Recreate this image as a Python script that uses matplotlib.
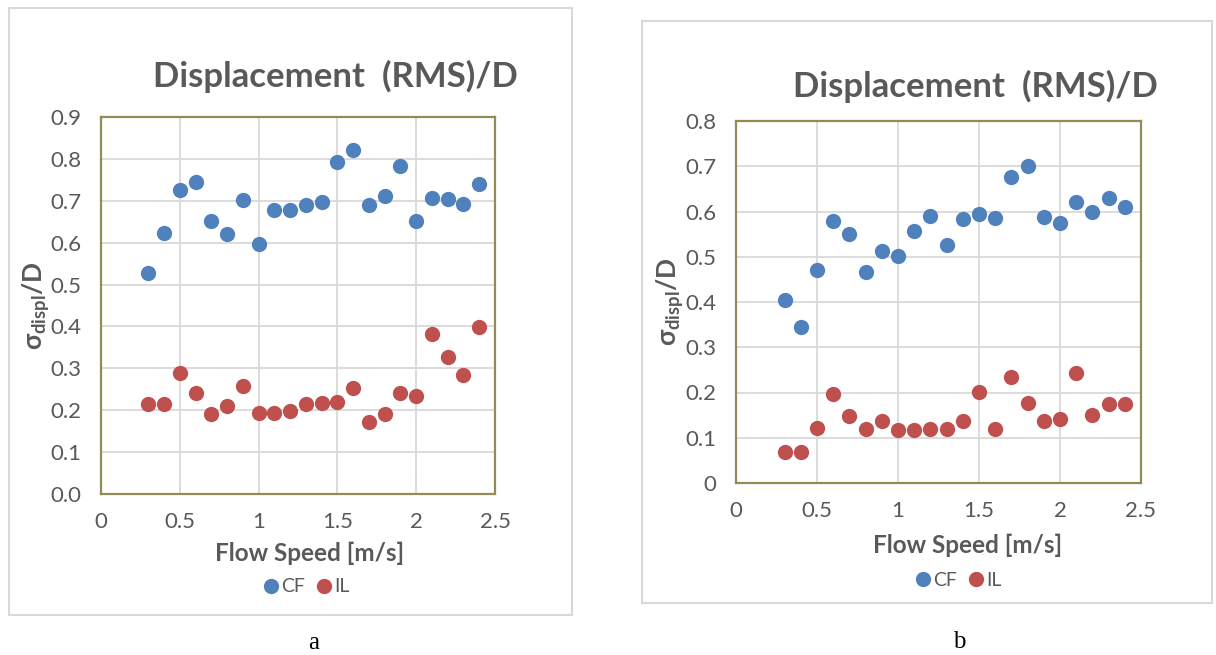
import matplotlib
matplotlib.use("Agg")
import matplotlib.pyplot as plt
from matplotlib.patches import Rectangle
from matplotlib.ticker import FuncFormatter

# flow speed [m/s]
speed = [0.3, 0.4, 0.5, 0.6, 0.7, 0.8, 0.9, 1.0, 1.1, 1.2, 1.3,
         1.4, 1.5, 1.6, 1.7, 1.8, 1.9, 2.0, 2.1, 2.2, 2.3, 2.4]

# chart a
cf_a = [0.527, 0.624, 0.725, 0.746, 0.651, 0.620, 0.703, 0.596, 0.677, 0.677, 0.689,
        0.698, 0.792, 0.821, 0.689, 0.712, 0.784, 0.651, 0.706, 0.704, 0.692, 0.740]
il_a = [0.214, 0.214, 0.289, 0.241, 0.190, 0.211, 0.259, 0.194, 0.194, 0.198, 0.214,
        0.218, 0.219, 0.253, 0.173, 0.190, 0.240, 0.235, 0.382, 0.328, 0.283, 0.399]

# chart b
cf_b = [0.405, 0.345, 0.471, 0.580, 0.551, 0.466, 0.513, 0.502, 0.558, 0.589, 0.527,
        0.583, 0.595, 0.586, 0.676, 0.701, 0.587, 0.575, 0.622, 0.599, 0.629, 0.609]
il_b = [0.069, 0.069, 0.122, 0.197, 0.147, 0.120, 0.136, 0.118, 0.118, 0.119, 0.119,
        0.136, 0.201, 0.120, 0.235, 0.176, 0.136, 0.142, 0.242, 0.150, 0.175, 0.175]

title = "Displacement  (RMS)/D"
xlabel = "Flow Speed [m/s]"
series_names = ["CF", "IL"]

W, H = 1216, 655
GRAY = "#595959"
BLUE = "#4f81bd"
RED = "#c0504d"
FRAME = "#948a54"

plt.rcParams["font.family"] = ["Lato", "DejaVu Sans"]
plt.rcParams["mathtext.fontset"] = "custom"
plt.rcParams["mathtext.bf"] = "Lato:bold"
plt.rcParams["mathtext.rm"] = "Lato"

fig = plt.figure(figsize=(W / 100, H / 100), dpi=100)


def px_box(x0, y0, x1, y1):
    # pixel box (top-left origin) -> figure fraction [l, b, w, h]
    return [x0 / W, 1 - y1 / H, (x1 - x0) / W, (y1 - y0) / H]


def draw_panel(box, plot, cf, il, ymax, yfmt, title_xy, xlab_xy, ylab_xy, leg_xy, cap_xy, cap):
    l, b, w, h = px_box(*box)
    fig.patches.append(Rectangle((l, b), w, h, transform=fig.transFigure,
                                 fill=False, edgecolor="#d9d9d9", lw=1.5, zorder=-1))
    ax = fig.add_axes(px_box(*plot))
    ax.plot(speed, cf, "o", color=BLUE, ms=11, mew=0, label=series_names[0], zorder=3)
    ax.plot(speed, il, "o", color=RED, ms=11, mew=0, label=series_names[1], zorder=3)
    ax.set_xlim(0, 2.5)
    ax.set_ylim(0, ymax)
    ax.set_xticks([0, 0.5, 1, 1.5, 2, 2.5])
    ax.set_yticks([i / 10 for i in range(int(round(ymax * 10)) + 1)])
    ax.xaxis.set_major_formatter(FuncFormatter(lambda v, p: f"{v:g}"))
    ax.yaxis.set_major_formatter(FuncFormatter(yfmt))
    ax.grid(True, color="#d9d9d9", lw=1.3)
    ax.set_axisbelow(True)
    for s in ax.spines.values():
        s.set_color(FRAME)
        s.set_linewidth(1.6)
    ax.tick_params(length=0, labelsize=16, labelcolor=GRAY)
    ax.tick_params(axis="y", pad=14)
    ax.tick_params(axis="x", pad=13)

    fig.text(title_xy[0] / W, 1 - title_xy[1] / H, title, ha="center", va="center",
             fontsize=25, fontweight="bold", color=GRAY)
    fig.text(xlab_xy[0] / W, 1 - xlab_xy[1] / H, xlabel, ha="center", va="center",
             fontsize=17.5, fontweight="bold", color=GRAY)
    fig.text(ylab_xy[0] / W, 1 - ylab_xy[1] / H, r"σ$_{\mathbf{displ}}$/D", ha="center",
             va="center", rotation=90, fontsize=19, fontweight="bold", color=GRAY)
    fig.legend(*ax.get_legend_handles_labels(), loc="center",
               bbox_to_anchor=(leg_xy[0] / W, 1 - leg_xy[1] / H), ncol=2, frameon=False,
               fontsize=14, labelcolor=GRAY, handletextpad=0.0, columnspacing=0.4,
               handlelength=1.1, markerscale=1.0)
    fig.text(cap_xy[0] / W, 1 - cap_xy[1] / H, cap, ha="center", va="center",
             fontsize=18, family="Liberation Serif", color="black")
    return ax


draw_panel((9, 8, 572, 615), (101, 117, 495, 494), cf_a, il_a, 0.9,
           lambda v, p: f"{v:.1f}",
           (335, 76), (310, 553), (36, 306), (305, 587), (314, 643), "a")
draw_panel((642, 21, 1212, 603), (736, 121, 1141, 483), cf_b, il_b, 0.8,
           lambda v, p: "0" if v == 0 else f"{v:.1f}",
           (975, 86), (968, 545), (670, 302), (957, 580), (959, 642), "b")

fig.savefig("out.png", dpi=100)
